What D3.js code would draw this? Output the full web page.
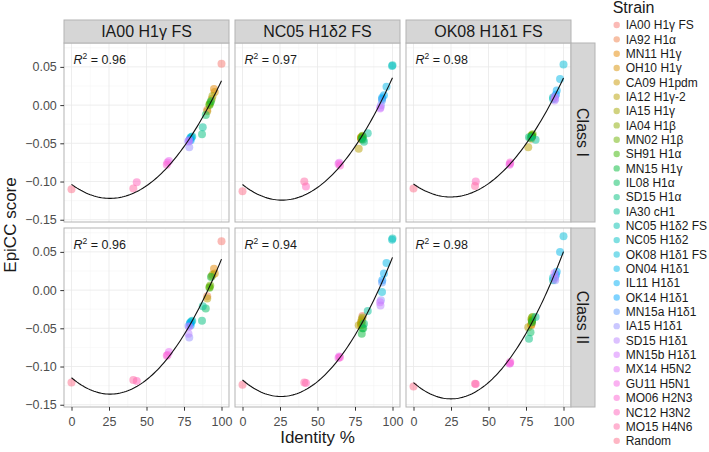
<!DOCTYPE html>
<html>
<head>
<meta charset="utf-8">
<script src="https://cdn.jsdelivr.net/npm/d3@7"></script>
<style>
  body { margin: 0; background: #fff; }
  svg { display: block; font-family: "Liberation Sans", Arial, sans-serif; }
</style>
</head>
<body>
<div id="chartContainer"></div>
<script>
var strains = ["IA00 H1γ FS", "IA92 H1α", "MN11 H1γ", "OH10 H1γ", "CA09 H1pdm", "IA12 H1γ-2",
  "IA15 H1γ", "IA04 H1β", "MN02 H1β", "SH91 H1α", "MN15 H1γ", "IL08 H1α", "SD15 H1α",
  "IA30 cH1", "NC05 H1δ2 FS", "NC05 H1δ2", "OK08 H1δ1 FS", "ON04 H1δ1", "IL11 H1δ1",
  "OK14 H1δ1", "MN15a H1δ1", "IA15 H1δ1", "SD15 H1δ1", "MN15b H1δ1", "MX14 H5N2",
  "GU11 H5N1", "MO06 H2N3", "NC12 H3N2", "MO15 H4N6", "Random"]

var references = ["IA00 H1γ FS", "NC05 H1δ2 FS", "OK08 H1δ1 FS"]
var classes = ["Class I", "Class II"]

// identity % of every strain to each reference (one array per column)
var identIA00 = [100, 90.5, 95, 95.5, 93.5, 90.5, 94, 92, 92.5, 92, 93, 89.5, 87, 87.5,
  80, 80.5, 79, 79.5, 79, 79.5, 78, 78.5, 78, 78.5, 65, 64, 63.5, 43.5, 41.2, 0]
var identNC05 = [80, 79.5, 79, 79, 79.5, 77.5, 79, 80, 80, 80, 79.5, 80.5, 81, 83.5,
  100, 99.7, 93, 96, 94.3, 93.2, 93, 92.3, 92, 91.7, 64.5, 64, 65, 42.3, 41.2, 0]
var identOK08 = [79, 79, 78.5, 78.5, 79, 76.5, 78.5, 79, 79.5, 79, 79, 78, 77, 81.4,
  93, 93, 100, 97.7, 95.5, 95, 94.5, 94.5, 94, 94, 64.3, 64, 64.5, 41.5, 41, 0]

// EpiCC scores, Class I
var scoreIA00c1 = [0.054, -0.006, 0.021, 0.017, 0.008, -0.008, 0.012, 0.001, 0.003, 0.000,
  0.005, -0.013, -0.038, -0.029, -0.042, -0.041, -0.044, -0.042, -0.045, -0.046, -0.047,
  -0.055, -0.048, -0.046, -0.073, -0.075, -0.078, -0.101, -0.109, -0.110]
var scoreNC05c1 = [-0.041, -0.043, -0.042, -0.044, -0.045, -0.057, -0.043, -0.041, -0.040,
  -0.042, -0.044, -0.045, -0.048, -0.037, 0.052, 0.051, 0.008, 0.024, 0.013, 0.010, 0.006,
  -0.0003, -0.003, -0.0046, -0.0755, -0.077, -0.079, -0.1066, -0.100, -0.1128]
var scoreOK08c1 = [-0.040, -0.041, -0.042, -0.044, -0.041, -0.055, -0.040, -0.039, -0.038,
  -0.040, -0.041, -0.043, -0.042, -0.0453, 0.010, 0.008, 0.053, 0.034, 0.019, 0.014, 0.012,
  0.008, 0.006, 0.010, -0.0768, -0.078, -0.075, -0.100, -0.106, -0.109]

// EpiCC scores, Class II
var scoreIA00c2 = [0.064, -0.008, 0.028, 0.0216, 0.018, -0.011, 0.020, 0.004, 0.006, 0.003,
  0.017, -0.024, -0.040, -0.021, -0.041, -0.040, -0.043, -0.042, -0.044, -0.046, -0.047,
  -0.062, -0.057, -0.048, -0.081, -0.085, -0.086, -0.119, -0.1175, -0.121]
var scoreNC05c2 = [-0.034, -0.040, -0.044, -0.046, -0.038, -0.046, -0.042, -0.036, -0.045,
  -0.050, -0.057, -0.050, -0.044, -0.0275, 0.0676, 0.066, -0.0025, 0.0356, 0.0216, 0.0128,
  0.010, -0.0134, -0.020, -0.016, -0.087, -0.0887, -0.088, -0.1215, -0.121, -0.124]
var scoreOK08c2 = [-0.040, -0.042, -0.045, -0.046, -0.039, -0.0485, -0.038, -0.036, -0.0353,
  -0.040, -0.042, -0.055, -0.0637, -0.0353, 0.013, 0.016, 0.0706, 0.050, 0.024, 0.020, 0.017,
  0.013, 0.015, 0.022, -0.0957, -0.096, -0.094, -0.1228, -0.1225, -0.126]

var rsq = [0.96, 0.97, 0.98, 0.96, 0.94, 0.98]

var xTicks = [0, 25, 50, 75, 100]
var yTicks = [-0.15, -0.10, -0.05, 0.00, 0.05]

var identities = [identIA00, identNC05, identOK08]
var scores = [[scoreIA00c1, scoreNC05c1, scoreOK08c1], [scoreIA00c2, scoreNC05c2, scoreOK08c2]]

// ggplot-style hue palette (polar LUV, c = 100, l = 65)
function hueColor(h) {
    var L = 65, C = 100, hr = h * Math.PI / 180
    var U = C * Math.cos(hr), V = C * Math.sin(hr)
    var Xn = 95.047, Yn = 100, Zn = 108.883
    var den = Xn + 15 * Yn + 3 * Zn
    var un = 4 * Xn / den, vn = 9 * Yn / den
    var Y = Yn * Math.pow((L + 16) / 116, 3)
    var u = U / (13 * L) + un, v = V / (13 * L) + vn
    var X = 9 * Y * u / (4 * v)
    var Z = -X / 3 - 5 * Y + 3 * Y / v
    X /= 100; Y /= 100; Z /= 100
    var rgb = [3.240479 * X - 1.537150 * Y - 0.498535 * Z,
              -0.969256 * X + 1.875992 * Y + 0.041556 * Z,
               0.055648 * X - 0.204043 * Y + 1.057311 * Z]
    rgb = rgb.map(function(c) {
        c = c <= 0.0031308 ? 12.92 * c : 1.055 * Math.pow(c, 1 / 2.4) - 0.055
        return Math.round(255 * Math.max(0, Math.min(1, c)))
    })
    return d3.rgb(rgb[0], rgb[1], rgb[2]).formatHex()
}

var colors = strains.map(function(s, i) { return hueColor(15 + i * 360 / strains.length) })
var colorScale = d3.scaleOrdinal().domain(strains).range(colors)

// least squares quadratic, like geom_smooth(method = lm, y ~ poly(x, 2))
function fitQuadratic(xs, ys) {
    var S = [[0, 0, 0], [0, 0, 0], [0, 0, 0]], T = [0, 0, 0]
    xs.forEach(function(x, k) {
        var p = [1, x, x * x]
        for (var i = 0; i < 3; i++) {
            T[i] += p[i] * ys[k]
            for (var j = 0; j < 3; j++) S[i][j] += p[i] * p[j]
        }
    })
    // gaussian elimination
    var A = S.map(function(r, i) { return r.concat([T[i]]) })
    for (var c = 0; c < 3; c++) {
        for (var r = c + 1; r < 3; r++) {
            var f = A[r][c] / A[c][c]
            for (var k = c; k < 4; k++) A[r][k] -= f * A[c][k]
        }
    }
    var b = [0, 0, 0]
    for (var i = 2; i >= 0; i--) {
        var s = A[i][3]
        for (var j = i + 1; j < 3; j++) s -= A[i][j] * b[j]
        b[i] = s / A[i][i]
    }
    return function(x) { return b[0] + b[1] * x + b[2] * x * x }
}

var panels = []
classes.forEach(function(cl, row) {
    references.forEach(function(ref, col) {
        var xs = identities[col], ys = scores[row][col]
        var fit = fitQuadratic(xs, ys)
        var curve = d3.range(0, 100.01, 1.25).map(function(x) { return { x: x, y: fit(x) } })
        panels.push({
            row: row, col: col, ref: ref, cl: cl, rsq: rsq[row * 3 + col], curve: curve,
            points: strains.map(function(s, i) { return { strain: s, x: xs[i], y: ys[i] } })
        })
    })
})

renderFacets(panels)

function renderFacets(panels) {
    var width = 709, height = 452
    var ml = 64, mt = 20, panelW = 165, panelH = 179, gap = 6, stripH = 23, stripW = 24

    var svg = d3.select('#chartContainer').append('svg')
        .attr('width', width)
        .attr('height', height)

    // shared scales with 5% expansion
    var allY = []
    panels.forEach(function(p) {
        p.points.forEach(function(d) { allY.push(d.y) })
        p.curve.forEach(function(d) { allY.push(d.y) })
    })
    var yExt = d3.extent(allY), yPad = (yExt[1] - yExt[0]) * 0.05
    var xScale = d3.scaleLinear().domain([-5, 105]).range([0, panelW])
    var yScale = d3.scaleLinear().domain([yExt[0] - yPad, yExt[1] + yPad]).range([panelH, 0])

    var yMinor = d3.range(-0.175, 0.1, 0.05).filter(function(v) {
        return v > yScale.domain()[0] && v < yScale.domain()[1]
    })
    var xMinor = [12.5, 37.5, 62.5, 87.5]

    var line = d3.line()
        .x(function(d) { return xScale(d.x) })
        .y(function(d) { return yScale(d.y) })

    panels.forEach(function(p) {
        var g = svg.append('g')
            .attr('transform', 'translate(' + (ml + p.col * (panelW + gap)) + ',' + (mt + stripH + p.row * (panelH + gap)) + ')')

        g.append('rect').attr('width', panelW).attr('height', panelH).attr('fill', '#fff')

        g.selectAll('.minorX').data(xMinor).enter().append('line')
            .attr('x1', xScale).attr('x2', xScale).attr('y1', 0).attr('y2', panelH)
            .attr('stroke', '#f3f3f3').attr('stroke-width', 0.5)
        g.selectAll('.minorY').data(yMinor).enter().append('line')
            .attr('y1', yScale).attr('y2', yScale).attr('x1', 0).attr('x2', panelW)
            .attr('stroke', '#f3f3f3').attr('stroke-width', 0.5)
        g.selectAll('.majorX').data(xTicks).enter().append('line')
            .attr('x1', xScale).attr('x2', xScale).attr('y1', 0).attr('y2', panelH)
            .attr('stroke', '#e9e9e9').attr('stroke-width', 0.8)
        g.selectAll('.majorY').data(yTicks).enter().append('line')
            .attr('y1', yScale).attr('y2', yScale).attr('x1', 0).attr('x2', panelW)
            .attr('stroke', '#e9e9e9').attr('stroke-width', 0.8)

        g.selectAll('.pt').data(p.points).enter().append('circle')
            .attr('cx', function(d) { return xScale(d.x) })
            .attr('cy', function(d) { return yScale(d.y) })
            .attr('r', 4)
            .attr('fill', function(d) { return colorScale(d.strain) })
            .attr('fill-opacity', 0.5)

        g.append('path').datum(p.curve)
            .attr('d', line)
            .attr('fill', 'none')
            .attr('stroke', '#111')
            .attr('stroke-width', 1.1)

        var lab = g.append('text')
            .attr('x', xScale(0) + 2)
            .attr('y', 20.5)
            .attr('font-size', 12.5)
            .attr('fill', '#1a1a1a')
        lab.append('tspan').attr('font-style', 'italic').text('R')
        lab.append('tspan').attr('font-size', 8.5).attr('dy', -5).text('2')
        lab.append('tspan').attr('dy', 5).text(' = ' + d3.format('.2f')(p.rsq))

        g.append('rect').attr('width', panelW).attr('height', panelH)
            .attr('fill', 'none').attr('stroke', '#b3b3b3').attr('stroke-width', 1)

        // top strips
        if (p.row === 0) {
            var st = g.append('g').attr('transform', 'translate(0,' + (-stripH) + ')')
            st.append('rect').attr('width', panelW).attr('height', stripH)
                .attr('fill', '#d6d6d6').attr('stroke', '#b3b3b3')
            st.append('text').attr('x', panelW / 2).attr('y', stripH / 2).attr('dy', '0.36em')
                .attr('text-anchor', 'middle').attr('font-size', 16).attr('fill', '#1a1a1a')
                .text(p.ref)
        }
        // right strips
        if (p.col === 2) {
            var sr = g.append('g').attr('transform', 'translate(' + panelW + ',0)')
            sr.append('rect').attr('width', stripW).attr('height', panelH)
                .attr('fill', '#d6d6d6').attr('stroke', '#b3b3b3')
            sr.append('text')
                .attr('transform', 'translate(' + (stripW / 2) + ',' + (panelH / 2) + ') rotate(90)')
                .attr('dy', '0.36em').attr('text-anchor', 'middle').attr('font-size', 16)
                .attr('fill', '#1a1a1a').text(p.cl)
        }
        if (p.col === 0) {
            var ya = g.append('g').call(d3.axisLeft(yScale).tickValues(yTicks)
                .tickFormat(d3.format('.2f')).tickSize(3.7).tickPadding(3.5))
            styleAxis(ya)
        }
        if (p.row === 1) {
            var xa = g.append('g').attr('transform', 'translate(0,' + panelH + ')')
                .call(d3.axisBottom(xScale).tickValues(xTicks).tickSize(3.7).tickPadding(6.5))
            styleAxis(xa)
        }
    })

    function styleAxis(a) {
        a.select('.domain').remove()
        a.selectAll('.tick line').attr('stroke', '#333')
        a.selectAll('.tick text').attr('fill', '#4d4d4d').attr('font-size', 12.5)
            .attr('font-family', '"Liberation Sans", Arial, sans-serif')
    }

    var fullW = 3 * panelW + 2 * gap
    svg.append('text')
        .attr('x', ml + fullW / 2).attr('y', 443)
        .attr('text-anchor', 'middle').attr('font-size', 17).attr('fill', '#1a1a1a')
        .text('Identity %')
    svg.append('text')
        .attr('transform', 'translate(16,' + (mt + stripH + panelH + gap / 2) + ') rotate(-90)')
        .attr('text-anchor', 'middle').attr('font-size', 17).attr('fill', '#1a1a1a')
        .text('EpiCC score')

    // legend
    var leg = svg.append('g').attr('transform', 'translate(612.7,0)')
    leg.append('text').attr('x', 0).attr('y', 12.5).attr('font-size', 16).attr('fill', '#1a1a1a')
        .text('Strain')
    var items = leg.selectAll('.item').data(strains).enter().append('g')
        .attr('transform', function(d, i) { return 'translate(0,' + (25 + i * 14.34) + ')' })
    items.append('circle').attr('cx', 4).attr('r', 3.2)
        .attr('fill', function(d) { return colorScale(d) }).attr('fill-opacity', 0.5)
    items.append('text').attr('x', 13).attr('dy', '0.36em').attr('font-size', 12)
        .attr('fill', '#1a1a1a').text(function(d) { return d })
}
</script>
</body>
</html>
